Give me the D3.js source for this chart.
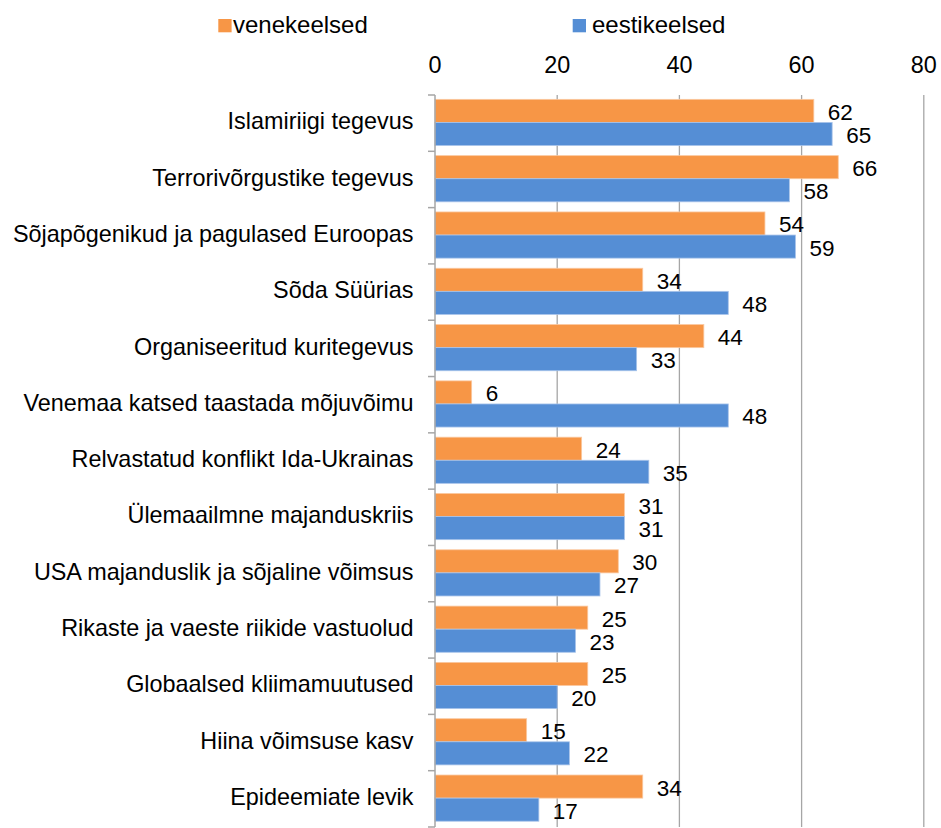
<!DOCTYPE html>
<html><head><meta charset="utf-8">
<script src="https://cdn.jsdelivr.net/npm/d3@7"></script>
<style>body{margin:0;background:#fff;} text{font-family:"Liberation Sans",Arial,sans-serif;fill:#000;}</style>
</head><body>
<svg id="c" width="941" height="828"></svg>
<script>
const categories = ["Islamiriigi tegevus","Terrorivõrgustike tegevus","Sõjapõgenikud ja pagulased Euroopas","Sõda Süürias","Organiseeritud kuritegevus","Venemaa katsed taastada mõjuvõimu","Relvastatud konflikt Ida-Ukrainas","Ülemaailmne majanduskriis","USA majanduslik ja sõjaline võimsus","Rikaste ja vaeste riikide vastuolud","Globaalsed kliimamuutused","Hiina võimsuse kasv","Epideemiate levik"];
const venekeelsed = [62,66,54,34,44,6,24,31,30,25,25,15,34];
const eestikeelsed = [65,58,59,48,33,48,35,31,27,23,20,22,17];
const seriesNames = ["venekeelsed","eestikeelsed"];
const tickValues = [0,20,40,60,80];
const colors = ["#F79646","#558ED5"];
const strokes = ["#FAC8A0","#A9C4EA"];

const svg = d3.select("#c");
const pL = 435, pR = 923.8, pT = 95, pB = 827;
const x = d3.scaleLinear().domain([0,80]).range([pL,pR]);
const y = d3.scaleBand().domain(categories).range([pT,pB]);
const bw = y.bandwidth();
const inner = d3.scaleBand().domain(seriesNames).range([bw*0.077, bw*0.077+bw*0.82]);

svg.append("g").selectAll("line").data(tickValues.slice(1)).join("line")
  .attr("x1",d=>x(d)).attr("x2",d=>x(d)).attr("y1",pT).attr("y2",pB)
  .attr("stroke","#A6A6A6").attr("stroke-width",1.3);

const data = categories.map((c,i)=>({c, vals:[venekeelsed[i], eestikeelsed[i]]}));
const g = svg.append("g");
data.forEach(d=>{
  d.vals.forEach((v,k)=>{
    const yy = y(d.c)+inner(seriesNames[k]);
    g.append("rect").attr("x",x(0)).attr("y",yy).attr("width",x(v)-x(0)).attr("height",inner.bandwidth())
      .attr("fill",colors[k]).attr("stroke",strokes[k]).attr("stroke-width",0.8);
    g.append("text").attr("x",x(v)+14).attr("y",yy+inner.bandwidth()/2+3)
      .attr("dominant-baseline","middle").attr("font-size","22.5px").text(v);
  });
});

svg.append("line").attr("x1",pL).attr("x2",pL).attr("y1",pT).attr("y2",pB).attr("stroke","#A6A6A6").attr("stroke-width",1.5);
const bounds = categories.map(c=>y(c)).concat([pB]);
svg.append("g").selectAll("line").data(bounds).join("line")
  .attr("x1",pL-7).attr("x2",pL).attr("y1",d=>d).attr("y2",d=>d).attr("stroke","#A6A6A6").attr("stroke-width",1.5);

svg.append("g").selectAll("text").data(categories).join("text")
  .attr("x",413.5).attr("y",d=>y(d)+bw/2).attr("text-anchor","end").attr("dominant-baseline","middle")
  .attr("font-size","23.4px").text(d=>d);

svg.append("g").selectAll("text").data(tickValues).join("text")
  .attr("x",d=>x(d)).attr("y",73.3).attr("text-anchor","middle")
  .attr("font-size","23.4px").text(d=>d);

const legX = [218.3,572.7];
const legTx = [233,592];
seriesNames.forEach((s,k)=>{
  svg.append("rect").attr("x",legX[k]).attr("y",19).attr("width",13.3).attr("height",13.3).attr("fill",colors[k]);
  svg.append("text").attr("x",legTx[k]).attr("y",32.5).attr("font-size","24px").text(s);
});
</script>
</body></html>
